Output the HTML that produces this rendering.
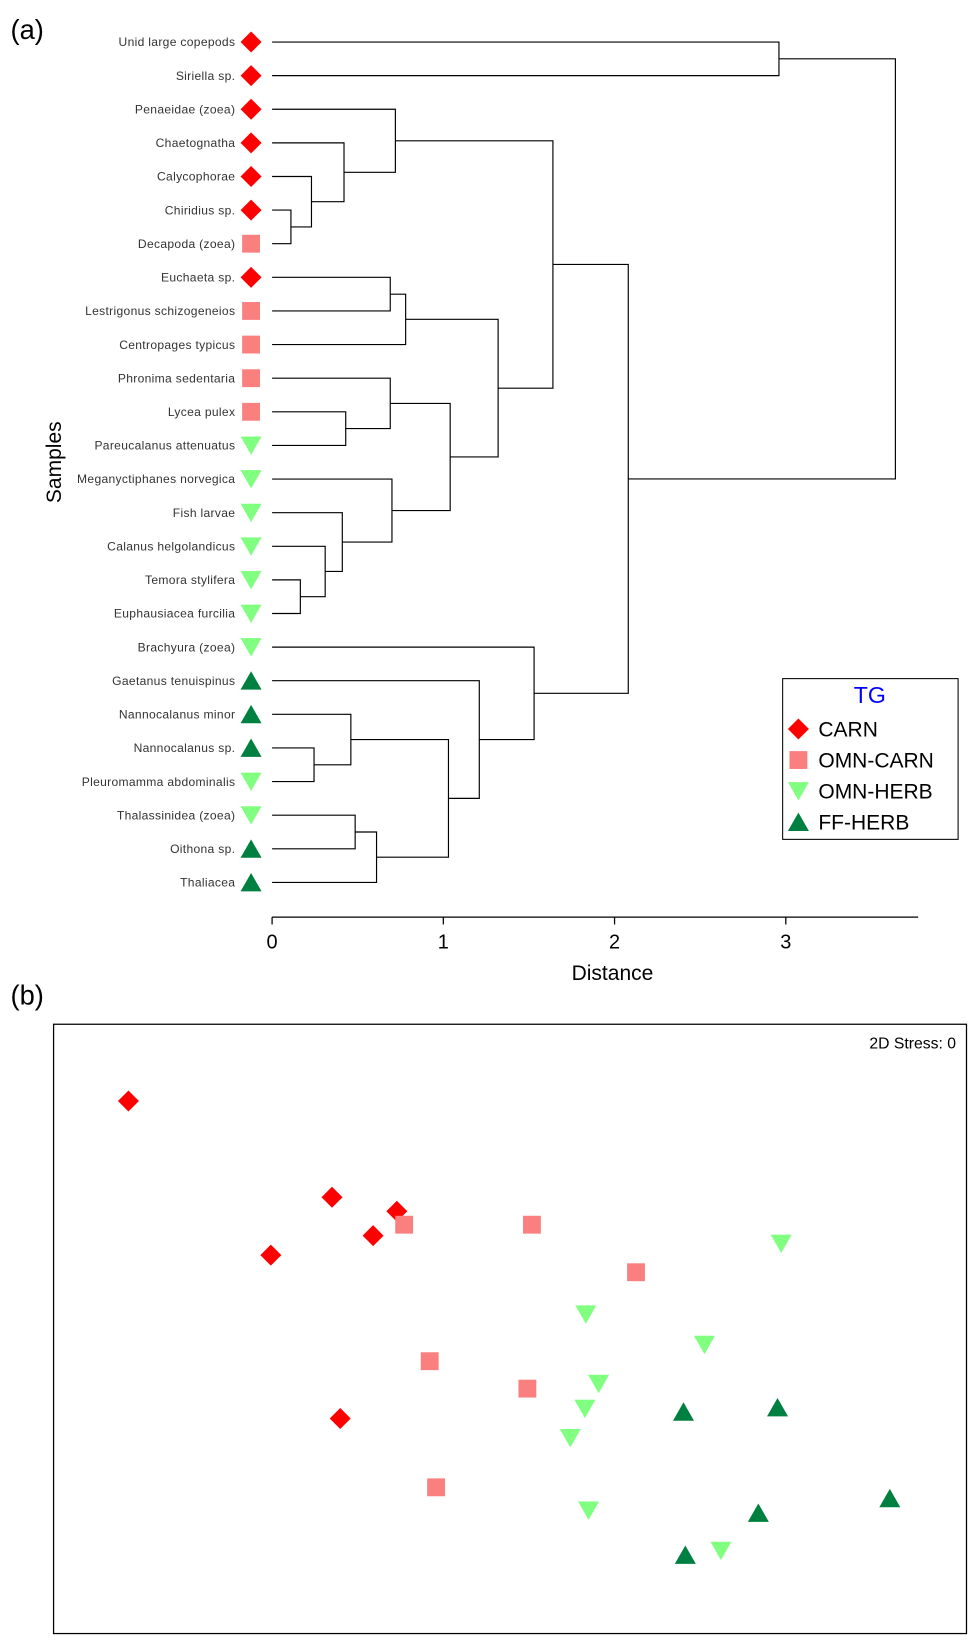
<!DOCTYPE html>
<html><head><meta charset="utf-8"><style>
html,body{margin:0;padding:0;background:#fff}
svg{display:block}
text{font-family:"Liberation Sans",sans-serif}
</style></head><body>
<svg id="fig" width="977" height="1643" viewBox="0 0 930 1564" preserveAspectRatio="none" xmlns="http://www.w3.org/2000/svg">
<text x="10" y="37" font-size="26">(a)</text>
<text x="10" y="956" font-size="26">(b)</text>
<g id="dendro"></g>
<text x="58" y="440" font-size="20" text-anchor="middle" transform="rotate(-90 58 440)">Samples</text>
<text x="583" y="933" font-size="20" text-anchor="middle">Distance</text>
<g>
<rect x="745" y="646" width="167" height="153" fill="#fff" stroke="#000" stroke-width="1"/>
<text x="828" y="669" font-size="22" fill="#0000ff" text-anchor="middle">TG</text>
<g id="legendItems"></g>
</g>
<g>
<rect x="51" y="975" width="869" height="580" fill="none" stroke="#000" stroke-width="1.2"/>
<text x="910" y="998" font-size="15" text-anchor="end">2D Stress: 0</text>
<g id="pts"></g>
</g>
</svg>
<script>
const leafNames = ["Unid large copepods","Siriella sp.","Penaeidae (zoea)","Chaetognatha","Calycophorae","Chiridius sp.","Decapoda (zoea)","Euchaeta sp.","Lestrigonus schizogeneios","Centropages typicus","Phronima sedentaria","Lycea pulex","Pareucalanus attenuatus","Meganyctiphanes norvegica","Fish larvae","Calanus helgolandicus","Temora stylifera","Euphausiacea furcilia","Brachyura (zoea)","Gaetanus tenuispinus","Nannocalanus minor","Nannocalanus sp.","Pleuromamma abdominalis","Thalassinidea (zoea)","Oithona sp.","Thaliacea"];
const leafGroups = ["CARN","CARN","CARN","CARN","CARN","CARN","OMN-CARN","CARN","OMN-CARN","OMN-CARN","OMN-CARN","OMN-CARN","OMN-HERB","OMN-HERB","OMN-HERB","OMN-HERB","OMN-HERB","OMN-HERB","OMN-HERB","FF-HERB","FF-HERB","FF-HERB","OMN-HERB","OMN-HERB","FF-HERB","FF-HERB"];
const mergeLeft  = [5,4,3,2,7,30,11,10,16,15,14,13,33,31,29,21,20,23,43,42,19,18,40,0,49];
const mergeRight = [6,26,27,28,8,9,12,32,17,34,35,36,37,38,39,22,41,24,25,44,45,46,47,1,48];
const mergeHeight = [0.11,0.23,0.42,0.72,0.69,0.78,0.43,0.69,0.165,0.31,0.41,0.70,1.04,1.32,1.64,0.245,0.46,0.485,0.61,1.03,1.21,1.53,2.08,2.96,3.64];
const xTicks = [0,1,2,3];

const groups = ["CARN","OMN-CARN","OMN-HERB","FF-HERB"];
const carnX = [0.082,0.305,0.376,0.350,0.238,0.314];
const carnY = [0.874,0.716,0.693,0.653,0.621,0.353];
const ocX = [0.384,0.524,0.638,0.412,0.519,0.419];
const ocY = [0.671,0.671,0.593,0.447,0.402,0.240];
const ohX = [0.797,0.583,0.713,0.597,0.582,0.566,0.586,0.731];
const ohY = [0.640,0.524,0.474,0.410,0.369,0.321,0.202,0.136];
const ffX = [0.690,0.793,0.916,0.772,0.692];
const ffY = [0.364,0.371,0.222,0.198,0.129];

const NS="http://www.w3.org/2000/svg";
function mk(tag, attrs, parent){const e=document.createElementNS(NS,tag);for(const k in attrs)e.setAttribute(k,attrs[k]);parent.appendChild(e);return e;}
function marker(g, cx, cy, parent){
  let e;
  if(g==="CARN"){e=mk("polygon",{points:`${cx},${cy-10} ${cx+10},${cy} ${cx},${cy+10} ${cx-10},${cy}`,fill:"#ff0000"},parent);}
  else if(g==="OMN-CARN"){e=mk("rect",{x:cx-8.5,y:cy-8.5,width:17,height:17,fill:"#fa8080"},parent);}
  else if(g==="OMN-HERB"){e=mk("polygon",{points:`${cx-10},${cy-8.5} ${cx+10},${cy-8.5} ${cx},${cy+9}`,fill:"#80ff80"},parent);}
  else {e=mk("polygon",{points:`${cx-10},${cy+8.5} ${cx+10},${cy+8.5} ${cx},${cy-9}`,fill:"#008040"},parent);}
  return e;
}
// dendrogram scales
const dx = v => 259 + v*163;
const ly = i => 40 + i*32;
const D = document.getElementById("dendro");
const nodeX=[], nodeY=[];
leafNames.forEach((n,i)=>{
  nodeX[i]=dx(0); nodeY[i]=ly(i);
  const t=mk("text",{x:224,y:ly(i)+4,"font-size":"11.5","text-anchor":"end",fill:"#333","letter-spacing":"0.3"},D);
  t.textContent=n;
  
  
  const m=marker(leafGroups[i],239,ly(i),D);
  
  
});
mergeLeft.forEach((a,k)=>{
  const b=mergeRight[k], x=dx(mergeHeight[k]), id=leafNames.length+k;
  const p=mk("path",{d:`M${nodeX[a]},${nodeY[a]}H${x}V${nodeY[b]}H${nodeX[b]}`,fill:"none",stroke:"#000","stroke-width":"1.1"},D);
  
  
  nodeX[id]=x; nodeY[id]=(nodeY[a]+nodeY[b])/2;
});
const ax=mk("line",{x1:dx(0),x2:874,y1:873,y2:873,stroke:"#000","stroke-width":"1.2"},D);


xTicks.forEach(t=>{
  const l=mk("line",{x1:dx(t),x2:dx(t),y1:873,y2:880,stroke:"#000","stroke-width":"1.2"},D);
  
  
  const tx=mk("text",{x:dx(t),y:903,"font-size":"19","text-anchor":"middle"},D);
  tx.textContent=t;
  
  
});
// legend
const L=document.getElementById("legendItems");
groups.forEach((g,i)=>{
  const y=694+i*29.5;
  const m=marker(g,760,y,L);
  
  
  const t=mk("text",{x:779,y:y+7,"font-size":"20"},L);
  t.textContent=g;
  
  
});
// nmds
const sx = v => 51 + v*869;
const sy = v => 1555 - v*580;
const P=document.getElementById("pts");
[[carnX,carnY,"CARN"],[ocX,ocY,"OMN-CARN"],[ohX,ohY,"OMN-HERB"],[ffX,ffY,"FF-HERB"]].forEach(([X,Y,g])=>{
  X.forEach((v,i)=>{
    const m=marker(g,sx(v),sy(Y[i]),P);
    
    
  });
});
</script>
</body></html>
